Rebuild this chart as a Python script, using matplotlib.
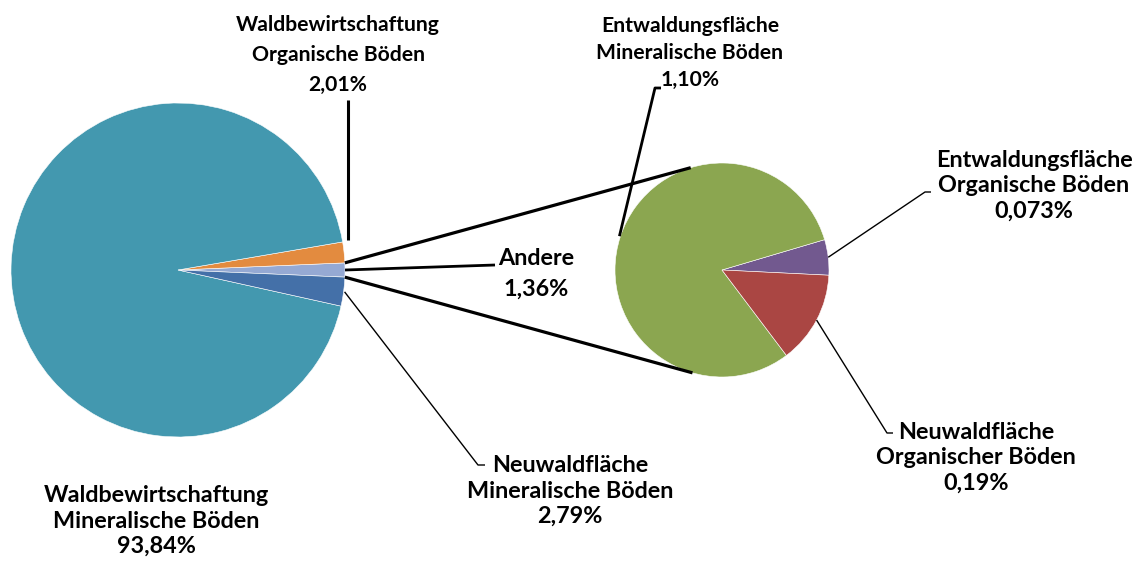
import numpy as np
import matplotlib
matplotlib.use("Agg")
import matplotlib.pyplot as plt
from matplotlib import font_manager

# main pie (counterclockwise from the "Andere" wedge)
main_labels = ["Andere", "Waldbewirtschaftung\nOrganische Böden",
               "Waldbewirtschaftung\nMineralische Böden",
               "Neuwaldfläche\nMineralische Böden"]
main_values = [1.36, 2.01, 93.84, 2.79]
main_text = ["1,36%", "2,01%", "93,84%", "2,79%"]
main_colors = ["#95A9D3", "#E38B3F", "#4398AF", "#4470A8"]

# secondary pie: breakdown of "Andere"
sub_labels = ["Entwaldungsfläche\nOrganische Böden",
              "Entwaldungsfläche\nMineralische Böden",
              "Neuwaldfläche\nOrganischer Böden"]
sub_values = [0.073, 1.10, 0.19]
sub_text = ["0,073%", "1,10%", "0,19%"]
sub_colors = ["#72598F", "#8BA650", "#AA4643"]

W, H = 1139, 562
names = [f.name for f in font_manager.fontManager.ttflist]
font = "Lato" if "Lato" in names else "DejaVu Sans"

fig = plt.figure(figsize=(W / 100, H / 100), dpi=100)
ax = fig.add_axes([0, 0, 1, 1])


def P(x, y):
    # pixel (from top) -> data
    return x, H - y


main_c, main_r = P(178, 270), 167
sub_c, sub_r = P(722, 270), 107

main_start = -main_values[0] / sum(main_values) * 360 / 2
sub_start = -2.8

ax.pie(main_values, colors=main_colors, startangle=main_start, center=main_c,
       radius=main_r, counterclock=True, frame=True,
       wedgeprops=dict(edgecolor="white", linewidth=0.4))
ax.pie(sub_values, colors=sub_colors, startangle=sub_start, center=sub_c,
       radius=sub_r, counterclock=True, frame=True,
       wedgeprops=dict(edgecolor="white", linewidth=0.4))
ax.set_xlim(0, W)
ax.set_ylim(0, H)
ax.set_aspect("equal")
ax.axis("off")


def edge(c, r, ang):
    a = np.deg2rad(ang)
    return c[0] + r * np.cos(a), c[1] + r * np.sin(a)


# connector lines between the pies
half = main_values[0] / sum(main_values) * 360 / 2
for a1, a2 in [(half, 107.0), (-half, -106.0)]:
    x1, y1 = edge(main_c, main_r, a1)
    x2, y2 = edge(sub_c, sub_r, a2)
    ax.plot([x1, x2], [y1, y2], color="black", lw=2.3, solid_capstyle="butt")


def mid(values, start, i):
    tot = sum(values)
    a0 = start + sum(values[:i]) / tot * 360
    return a0 + values[i] / tot * 360 / 2


def leader(pts, lw=1.0):
    xs, ys = zip(*[P(*p) for p in pts])
    ax.plot(xs, ys, color="black", lw=lw, solid_capstyle="butt")


# leader lines (pixel positions of the label ends)
x0, y0 = edge(main_c, main_r, 0)
leader([(x0, H - y0), (495, 265)], lw=2.0)
leader([(348, 240), (348, 100)], lw=2.2)
x0, y0 = edge(main_c, main_r + 1, mid(main_values, main_start, 3))
leader([(x0, H - y0), (478, 465), (485, 465)], lw=1.0)
x0, y0 = edge(sub_c, sub_r + 1, mid(sub_values, sub_start, 1))
leader([(x0, H - y0), (655, 88), (661, 88)], lw=2.0)
x0, y0 = edge(sub_c, sub_r, mid(sub_values, sub_start, 0))
leader([(x0, H - y0), (925, 192), (931, 192)], lw=1.0)
x0, y0 = edge(sub_c, sub_r, mid(sub_values, sub_start, 2))
leader([(x0, H - y0), (887, 433), (893, 433)], lw=1.0)


def label(x, y, txt, size=16.8, ls=1.27):
    ax.text(*P(x, y), txt, ha="center", va="center", multialignment="center",
            fontsize=size, fontweight="bold", family=font, linespacing=ls)


label(156, 521, main_labels[2] + "\n" + main_text[2])
label(338, 55, main_labels[1] + "\n" + main_text[1], size=15.2, ls=1.6)
label(536, 274, main_labels[0] + "\n" + main_text[0], ls=1.6)
label(570, 491, main_labels[3] + "\n" + main_text[3])
label(690, 53, sub_labels[1] + "\n" + sub_text[1], size=15.2, ls=1.45)
label(1034, 186, sub_labels[0] + "\n" + sub_text[0])
label(976, 458, sub_labels[2] + "\n" + sub_text[2])

fig.savefig("out.png", dpi=100)
